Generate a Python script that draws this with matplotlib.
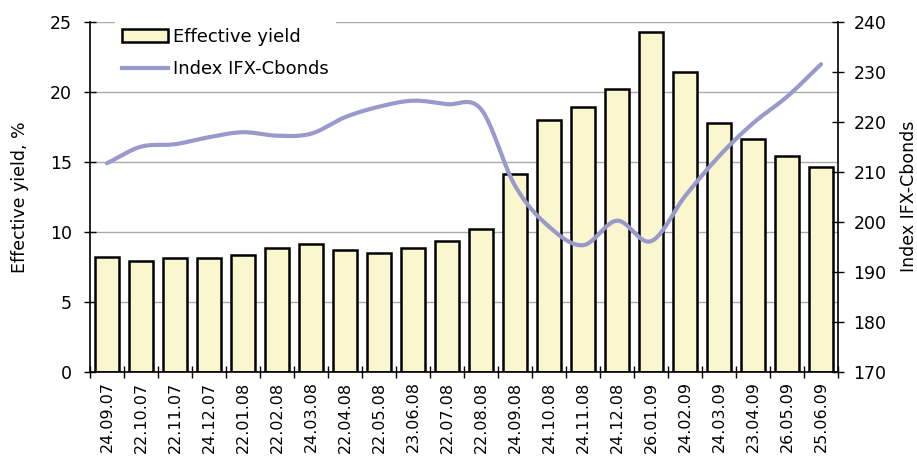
import numpy as np
import matplotlib
matplotlib.use("Agg")
import matplotlib.pyplot as plt
from matplotlib.patches import Patch
from matplotlib.lines import Line2D

dates = ["24.09.07", "22.10.07", "22.11.07", "24.12.07", "22.01.08", "22.02.08",
         "24.03.08", "22.04.08", "22.05.08", "23.06.08", "22.07.08", "22.08.08",
         "24.09.08", "24.10.08", "24.11.08", "24.12.08", "26.01.09", "24.02.09",
         "24.03.09", "23.04.09", "26.05.09", "25.06.09"]
effective_yield = [8.2, 7.9, 8.1, 8.1, 8.3, 8.8, 9.1, 8.7, 8.5, 8.8, 9.3, 10.2,
                   14.1, 18.0, 18.9, 20.2, 24.3, 21.4, 17.8, 16.6, 15.4, 14.6]
index_ifx = [211.7, 215.0, 215.5, 216.9, 217.9, 217.2, 217.6, 220.9, 223.0, 224.2,
             223.5, 222.5, 207.2, 199.0, 195.3, 200.2, 196.1, 205.1, 213.1, 219.7,
             225.0, 231.5]

plt.rcParams['font.family'] = ['DejaVu Sans']

bar_color = "#FAF7CE"
line_color = "#9999CC"

fig = plt.figure(figsize=(9.17, 4.62), dpi=100)
ax = fig.add_axes([0.0981, 0.1955, 0.8158, 0.7575])
ax2 = ax.twinx()

x = np.arange(len(dates))
ax.bar(x, effective_yield, width=0.68, color=bar_color, edgecolor="black",
       linewidth=1.8, zorder=2)

# smooth line (Catmull-Rom through the data points, like Excel's smoothed line)
def catmull_rom(xs, ys, n=24):
    xs = np.asarray(xs, float); ys = np.asarray(ys, float)
    px = np.concatenate([[2 * xs[0] - xs[1]], xs, [2 * xs[-1] - xs[-2]]])
    py = np.concatenate([[2 * ys[0] - ys[1]], ys, [2 * ys[-1] - ys[-2]]])
    outx, outy = [], []
    t = np.linspace(0, 1, n, endpoint=False)
    for i in range(1, len(px) - 2):
        for arr, out in ((px, outx), (py, outy)):
            p0, p1, p2, p3 = arr[i - 1], arr[i], arr[i + 1], arr[i + 2]
            out.extend(0.5 * ((2 * p1) + (-p0 + p2) * t +
                              (2 * p0 - 5 * p1 + 4 * p2 - p3) * t ** 2 +
                              (-p0 + 3 * p1 - 3 * p2 + p3) * t ** 3))
    outx.append(xs[-1]); outy.append(ys[-1])
    return np.array(outx), np.array(outy)

sx, sy = catmull_rom(x, index_ifx)
ax2.plot(sx, sy, color=line_color, linewidth=3.0, solid_capstyle="round", zorder=3)

ax.set_xlim(-0.5, len(dates) - 0.5)
ax.set_ylim(0, 25)
ax2.set_ylim(170, 240)
ax.set_yticks(np.arange(0, 26, 5))
ax2.set_yticks(np.arange(170, 241, 10))

ax.set_xticks(x)
ax.set_xticklabels(dates, rotation=90)
ax.tick_params(axis="x", which="major", length=0, pad=7, labelsize=11.5)
ax.set_xticks(np.arange(-0.5, len(dates), 1.0), minor=True)
ax.tick_params(axis="x", which="minor", length=8, direction="inout", width=1)

ax.tick_params(axis="y", length=8, direction="inout", width=1, labelsize=12.5, pad=9)
ax2.tick_params(axis="y", length=8, direction="inout", width=1, labelsize=12.5, pad=7)

ax.yaxis.grid(True, color="#AAAAAA", linewidth=1)
ax.set_axisbelow(True)

for a in (ax, ax2):
    a.spines["top"].set_visible(False)
ax.spines["right"].set_visible(False)
ax2.spines["left"].set_visible(False)
ax2.spines["bottom"].set_visible(False)
for s in ("left", "bottom"):
    ax.spines[s].set_linewidth(1.2)
ax2.spines["right"].set_linewidth(1.2)

ax.set_ylabel("Effective yield, %", fontsize=12.5, labelpad=15)
ax2.set_ylabel("Index IFX-Cbonds", fontsize=12.5, labelpad=10)

handles = [Patch(facecolor=bar_color, edgecolor="black", linewidth=1.8),
           Line2D([0], [0], color=line_color, linewidth=3)]
leg = ax2.legend(handles, ["Effective yield", "Index IFX-Cbonds"],
                 loc="upper left", bbox_to_anchor=(0.034, 1.0), frameon=True,
                 fancybox=False, edgecolor="white", framealpha=1,
                 fontsize=13, handlelength=2.55, handletextpad=0.3,
                 borderpad=0.35, labelspacing=0.8, borderaxespad=0)
leg.set_zorder(10)

fig.savefig("out.png", dpi=100)
